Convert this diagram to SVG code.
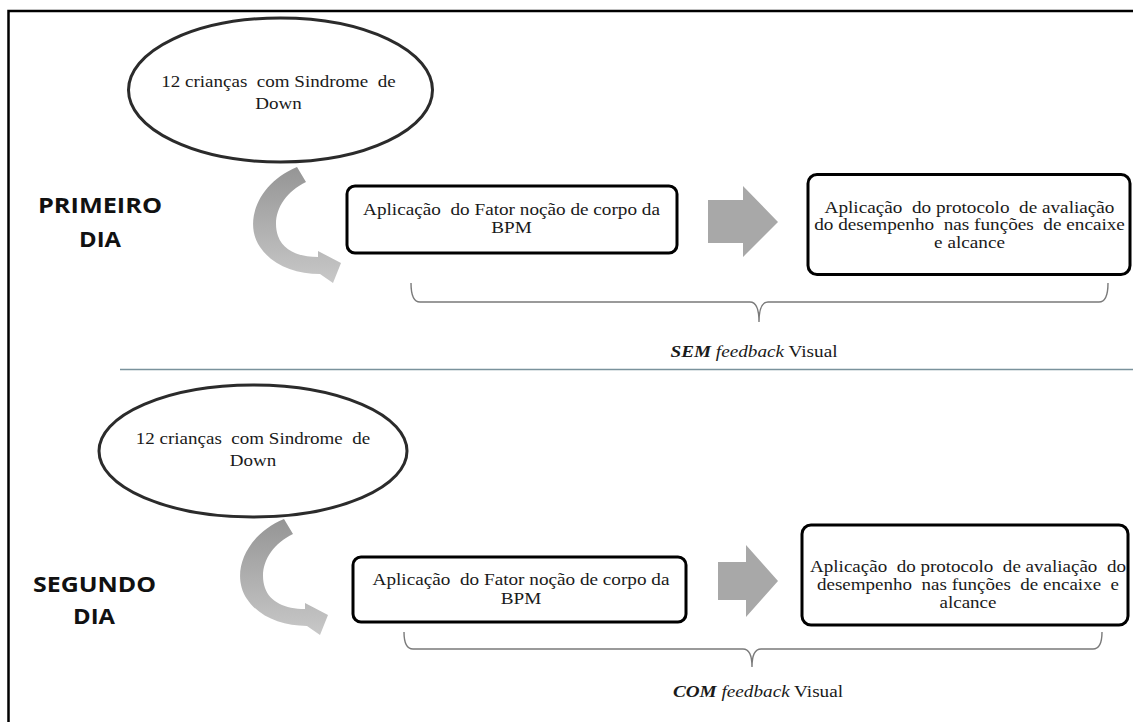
<svg xmlns="http://www.w3.org/2000/svg" width="1133" height="722" viewBox="0 0 1133 722">
<style>
.t{font-size:17px;fill:#1a1a1a;text-anchor:middle}
.lbl{font-size:21px;font-weight:700;fill:#111;text-anchor:middle}
.ell{fill:#fff;stroke:#2b2b2b;stroke-width:3}
.box{fill:#fff;stroke:#000;stroke-width:3}
.blk{fill:#a8a8a8}
.crv{fill:url(#g)}
.brace{fill:none;stroke:#7a7a7a;stroke-width:1.4}
</style>
<defs>
<linearGradient id="g" x1="0" y1="0" x2="0" y2="1">
<stop offset="0" stop-color="#959595"/>
<stop offset="1" stop-color="#c8c8c8"/>
</linearGradient>
</defs>
<rect x="8.5" y="11" width="1140" height="730" fill="none" stroke="#000" stroke-width="2.5"/>
<line x1="120" y1="369.5" x2="1133" y2="369.5" stroke="#7a929c" stroke-width="1.5"/>

<g id="label-primeiro" font-family="'Open Sans', 'Liberation Sans', sans-serif">
<text class="lbl" x="100" y="213" textLength="124" lengthAdjust="spacingAndGlyphs">PRIMEIRO</text>
<text class="lbl" x="100" y="247" textLength="42" lengthAdjust="spacingAndGlyphs">DIA</text>
</g>
<g id="label-segundo" font-family="'Open Sans', 'Liberation Sans', sans-serif">
<text class="lbl" x="94.5" y="592" textLength="123" lengthAdjust="spacingAndGlyphs">SEGUNDO</text>
<text class="lbl" x="94" y="624" textLength="42" lengthAdjust="spacingAndGlyphs">DIA</text>
</g>

<g id="ellipse1" font-family="'Liberation Serif', 'DejaVu Serif', serif">
<ellipse class="ell" cx="280.5" cy="90" rx="152" ry="72"/>
<g transform="translate(278.5,0) scale(1.12,1)"><text class="t" xml:space="preserve"><tspan x="0" y="87">12 crianças  com Sindrome  de</tspan><tspan x="0" y="109">Down</tspan></text></g>
</g>
<g id="box1" font-family="'Liberation Serif', 'DejaVu Serif', serif">
<rect class="box" x="347" y="186" width="330" height="67" rx="8"/>
<g transform="translate(511.5,0) scale(1.13,1)"><text class="t" xml:space="preserve"><tspan x="0" y="215">Aplicação  do Fator noção de corpo da</tspan><tspan x="0" y="233">BPM</tspan></text></g>
</g>
<g id="box2" font-family="'Liberation Serif', 'DejaVu Serif', serif">
<rect class="box" x="808" y="174.5" width="322" height="100" rx="9"/>
<g transform="translate(969.5,0) scale(1.13,1)"><text class="t" xml:space="preserve"><tspan x="0" y="213">Aplicação  do protocolo  de avaliação</tspan><tspan x="0" y="230.5">do desempenho  nas funções  de encaixe</tspan><tspan x="0" y="248">e alcance</tspan></text></g>
</g>
<g id="caption1" font-family="'Liberation Serif', 'DejaVu Serif', serif">
<g transform="translate(754,0) scale(1.13,1)"><text class="t" y="357" x="0"><tspan font-weight="700" font-style="italic">SEM</tspan> <tspan font-style="italic">feedback</tspan> Visual</text></g>
</g>

<g id="ellipse2" font-family="'Liberation Serif', 'DejaVu Serif', serif">
<ellipse class="ell" cx="253" cy="451" rx="154" ry="66"/>
<g transform="translate(253,0) scale(1.12,1)"><text class="t" xml:space="preserve"><tspan x="0" y="444">12 crianças  com Sindrome  de</tspan><tspan x="0" y="466">Down</tspan></text></g>
</g>
<g id="box3" font-family="'Liberation Serif', 'DejaVu Serif', serif">
<rect class="box" x="353" y="557" width="333" height="65" rx="8"/>
<g transform="translate(521,0) scale(1.13,1)"><text class="t" xml:space="preserve"><tspan x="0" y="585">Aplicação  do Fator noção de corpo da</tspan><tspan x="0" y="604">BPM</tspan></text></g>
</g>
<g id="box4" font-family="'Liberation Serif', 'DejaVu Serif', serif">
<rect class="box" x="802" y="525" width="326" height="100" rx="9"/>
<g transform="translate(968,0) scale(1.12,1)"><text class="t" xml:space="preserve"><tspan x="0" y="572">Aplicação  do protocolo  de avaliação  do</tspan><tspan x="0" y="590">desempenho  nas funções  de encaixe  e</tspan><tspan x="0" y="608">alcance</tspan></text></g>
</g>
<g id="caption2" font-family="'Liberation Serif', 'DejaVu Serif', serif">
<g transform="translate(758,0) scale(1.13,1)"><text class="t" y="697" x="0"><tspan font-weight="700" font-style="italic">COM</tspan> <tspan font-style="italic">feedback</tspan> Visual</text></g>
</g>

<g id="connectors">
<path class="crv" d="M297,167 C258,183 243,222 260,247 C272,265 295,274 320,274 L333,283 L341,263 L318,251 L318,257 C298,257 283,250 278,236 C271,215 283,193 306,182 Z"/>
<polygon class="blk" points="708,200 743,200 743,186 778,222 743,257 743,243 708,243"/>
<path class="brace" d="M411,283 Q411,302 420,302 L750,302 Q759,302 759,322 Q759,302 768,302 L1099,302 Q1108,302 1108,283"/>
<path class="crv" transform="translate(-13,352)" d="M297,167 C258,183 243,222 260,247 C272,265 295,274 320,274 L333,283 L341,263 L318,251 L318,257 C298,257 283,250 278,236 C271,215 283,193 306,182 Z"/>
<polygon class="blk" points="718,562 746,562 746,545 778,581 746,617 746,600 718,600"/>
<path class="brace" d="M404,632 Q404,649 413,649 L743,649 Q752,649 752,667 Q752,649 761,649 L1093,649 Q1102,649 1102,632"/>
</g>
</svg>
